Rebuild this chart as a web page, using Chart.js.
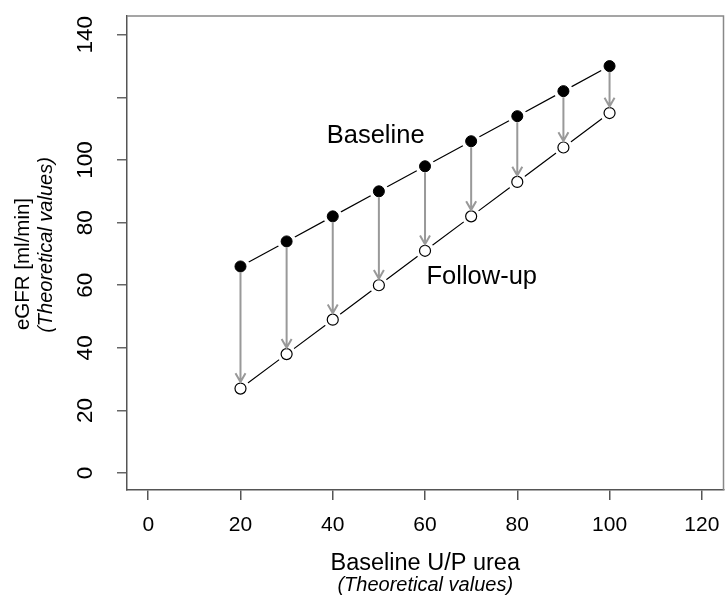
<!DOCTYPE html>
<html>
<head>
<meta charset="utf-8">
<script src="https://cdn.jsdelivr.net/npm/chart.js@4/dist/chart.umd.min.js"></script>
<style>
	html, body { margin: 0; padding: 0; background: #fff; }
	#wrap { width: 725px; height: 599px; }
</style>
</head>
<body>
<div id="wrap"><canvas id="chart" width="725" height="599"></canvas></div>
<script>
const uPUrea = [20, 30, 40, 50, 60, 70, 80, 90, 100];
const baseline = [66, 74, 82, 90, 98, 106, 114, 122, 130];
const followUp = [27, 38, 49, 60, 71, 82, 93, 104, 115];

const xTicks = [0, 20, 40, 60, 80, 100, 120];
const yTicks = [0, 20, 40, 60, 80, 100, 120, 140];
const yTickHidden = [120];

const seriesLabels = [
	{ text: "Baseline", x: 49.3, y: 107.7 },
	{ text: "Follow-up", x: 72.3, y: 62.6 },
];

const FONT = '"Liberation Sans", Arial, sans-serif';

const toPoints = (ys) => uPUrea.map((x, i) => ({ x, y: ys[i] }));

// frame, arrows, in-plot labels and axis titles
const extras = {
	id: "extras",
	afterDatasetsDraw(chart) {
		const { ctx, scales: { x, y } } = chart;
		ctx.save();
		ctx.strokeStyle = "#999";
		ctx.lineWidth = 2;
		uPUrea.forEach((v, i) => {
			const px = x.getPixelForValue(v);
			const y1 = y.getPixelForValue(baseline[i]) + 6;
			const y2 = y.getPixelForValue(followUp[i]) - 6.5;
			ctx.beginPath();
			ctx.moveTo(px, y1);
			ctx.lineTo(px, y2);
			ctx.moveTo(px - 5, y2 - 8.7);
			ctx.lineTo(px, y2);
			ctx.lineTo(px + 5, y2 - 8.7);
			ctx.stroke();
		});

		ctx.fillStyle = "#000";
		ctx.font = `25.5px ${FONT}`;
		ctx.textAlign = "center";
		ctx.textBaseline = "middle";
		seriesLabels.forEach((l) => {
			ctx.fillText(l.text, x.getPixelForValue(l.x), y.getPixelForValue(l.y));
		});
		ctx.restore();
	},
	afterDraw(chart) {
		const { ctx, chartArea: a } = chart;
		ctx.save();
		ctx.strokeStyle = "#888";
		ctx.lineWidth = 1.5;
		ctx.beginPath();
		ctx.moveTo(a.left, a.top);
		ctx.lineTo(a.right, a.top);
		ctx.lineTo(a.right, a.bottom);
		ctx.stroke();

		const cx = (a.left + a.right) / 2;
		ctx.fillStyle = "#000";
		ctx.textAlign = "center";
		ctx.textBaseline = "middle";
		ctx.font = `23.5px ${FONT}`;
		ctx.fillText("Baseline U/P urea", cx, 564);
		ctx.font = `italic 20px ${FONT}`;
		ctx.fillText("(Theoretical values)", cx, 585);

		ctx.rotate(-Math.PI / 2);
		ctx.font = `20.5px ${FONT}`;
		ctx.fillText("eGFR [ml/min]", -264, 23);
		ctx.font = `italic 20px ${FONT}`;
		ctx.fillText("(Theoretical values)", -245, 46);
		ctx.restore();
	},
};

new Chart(document.getElementById("chart"), {
	type: "scatter",
	data: {
		datasets: [
			{
				data: toPoints(baseline),
				showLine: true,
				borderColor: "#000",
				borderWidth: 1.2,
				pointRadius: 9.5,
				pointBackgroundColor: "#fff",
				pointBorderWidth: 0,
				order: 5,
			},
			{
				data: toPoints(followUp),
				showLine: true,
				borderColor: "#000",
				borderWidth: 1.2,
				pointRadius: 9.5,
				pointBackgroundColor: "#fff",
				pointBorderWidth: 0,
				order: 5,
			},
			{
				data: toPoints(baseline),
				showLine: false,
				pointRadius: 5.5,
				pointBackgroundColor: "#000",
				pointBorderColor: "#000",
				pointBorderWidth: 1,
				order: 1,
			},
			{
				data: toPoints(followUp),
				showLine: false,
				pointRadius: 5.5,
				pointBackgroundColor: "#fff",
				pointBorderColor: "#000",
				pointBorderWidth: 1.2,
				order: 1,
			},
		],
	},
	options: {
		responsive: false,
		devicePixelRatio: 1,
		animation: false,
		events: [],
		layout: { autoPadding: false, padding: { top: 16, right: 1.5, left: 0, bottom: 0 } },
		plugins: { legend: { display: false }, tooltip: { enabled: false } },
		scales: {
			x: {
				type: "linear",
				min: -4.6,
				max: 124.7,
				afterBuildTicks: (s) => { s.ticks = xTicks.map((value) => ({ value })); },
				afterFit: (s) => { s.height = 109; s.paddingLeft = 0; s.paddingRight = 0; },
				grid: { drawOnChartArea: false, drawTicks: true, tickLength: 10, color: "#555", lineWidth: 1.5 },
				border: { display: true, color: "#555", width: 1.5 },
				ticks: { color: "#000", font: { family: FONT, size: 21, lineHeight: 2.1 }, padding: 3, maxRotation: 0 },
			},
			y: {
				type: "linear",
				min: -5.4,
				max: 146,
				afterBuildTicks: (s) => { s.ticks = yTicks.map((value) => ({ value })); },
				afterFit: (s) => { s.width = 127; s.paddingTop = 0; s.paddingBottom = 0; },
				grid: { drawOnChartArea: false, drawTicks: true, tickLength: 10, color: "#666", lineWidth: 1.5 },
				border: { display: true, color: "#555", width: 1.5 },
				ticks: {
					color: "#000",
					font: { family: FONT, size: 22.5 },
					padding: 12,
					minRotation: 90,
					maxRotation: 90,
					crossAlign: "center",
					callback: (v) => (yTickHidden.includes(v) ? "" : String(v)),
				},
			},
		},
	},
	plugins: [extras],
});
</script>
</body>
</html>
